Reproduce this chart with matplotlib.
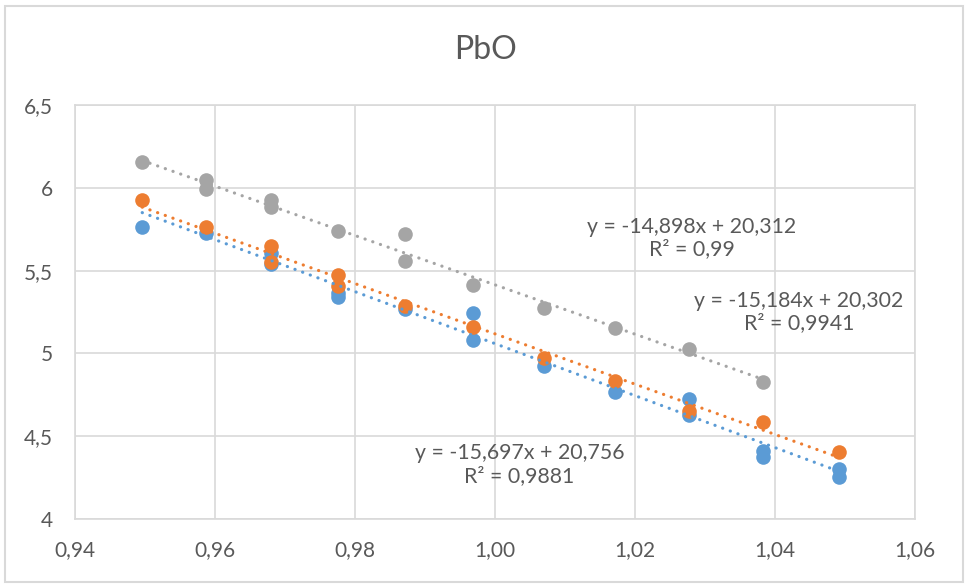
import matplotlib.pyplot as plt
from matplotlib.patches import Rectangle

# measured points (x, y) for the three series
blue_x = [0.9496, 0.9587, 0.9680, 0.9680, 0.9775, 0.9775, 0.9871, 0.9969, 0.9969,
          1.0070, 1.0171, 1.0277, 1.0277, 1.0383, 1.0383, 1.0491, 1.0491]
blue_y = [5.763, 5.725, 5.604, 5.540, 5.365, 5.342, 5.266, 5.242, 5.081,
          4.926, 4.765, 4.725, 4.628, 4.412, 4.376, 4.300, 4.252]

orange_x = [0.9496, 0.9587, 0.9680, 0.9680, 0.9775, 0.9775, 0.9871, 0.9969,
            1.0070, 1.0171, 1.0277, 1.0383, 1.0491]
orange_y = [5.926, 5.761, 5.649, 5.554, 5.473, 5.407, 5.286, 5.161,
            4.974, 4.835, 4.652, 4.584, 4.406]

gray_x = [0.9496, 0.9587, 0.9587, 0.9680, 0.9680, 0.9775, 0.9871, 0.9871,
          0.9969, 1.0070, 1.0171, 1.0277, 1.0383]
gray_y = [6.154, 6.047, 5.993, 5.926, 5.886, 5.741, 5.719, 5.560,
          5.413, 5.276, 5.152, 5.027, 4.827]

# linear trendlines as printed on the chart
slopes = [-15.697, -15.184, -14.898]
intercepts = [20.756, 20.302, 20.312]
eq_labels = ['y = -15,697x + 20,756\nR² = 0,9881',
             'y = -15,184x + 20,302\nR² = 0,9941',
             'y = -14,898x + 20,312\nR² = 0,99']

x_ticks = [0.94, 0.96, 0.98, 1.00, 1.02, 1.04, 1.06]
x_ticklabels = ['0,94', '0,96', '0,98', '1,00', '1,02', '1,04', '1,06']
y_ticks = [4, 4.5, 5, 5.5, 6, 6.5]
y_ticklabels = ['4', '4,5', '5', '5,5', '6', '6,5']

colors = ['#5B9BD5', '#ED7D31', '#A5A5A5']
label_pos = [(1.0035, 4.329), (1.0434, 5.248), (1.0281, 5.697)]

plt.rcParams['font.family'] = ['Lato', 'DejaVu Sans']

fig = plt.figure(figsize=(9.68, 5.85), dpi=100)
ax = fig.add_axes([0.0775, 0.1128, 0.8678, 0.7077])

series = [(blue_x, blue_y), (orange_x, orange_y), (gray_x, gray_y)]
for (xs, ys), c in zip(series, colors):
    ax.plot(xs, ys, 'o', color=c, markersize=10.5, markeredgewidth=0, zorder=3)

for (xs, ys), c, m, b in zip(series, colors, slopes, intercepts):
    x0, x1 = min(xs), max(xs)
    ax.plot([x0, x1], [m * x0 + b, m * x1 + b], color=c, lw=2.3,
            linestyle=(0, (0.05, 2.5)), dash_capstyle='round', zorder=4)

for (tx, ty), txt in zip(label_pos, eq_labels):
    ax.text(tx, ty, txt, ha='center', va='center', fontsize=15.3,
            color='#595959', linespacing=1.15, zorder=5)

ax.set_xlim(0.94, 1.06)
ax.set_ylim(4, 6.5)
ax.set_xticks(x_ticks)
ax.set_xticklabels(x_ticklabels)
ax.set_yticks(y_ticks)
ax.set_yticklabels(y_ticklabels)
ax.tick_params(length=0, labelsize=15, labelcolor='#595959')
ax.tick_params(axis='x', pad=15)
ax.tick_params(axis='y', pad=16)
ax.grid(True, color='#D9D9D9', lw=1.2)
ax.set_axisbelow(True)
for s in ax.spines.values():
    s.set_color('#D9D9D9')
    s.set_linewidth(1.2)

fig.text(0.5016, 0.9145, 'PbO', ha='center', va='center', fontsize=23, color='#595959')
fig.patches.append(Rectangle((0.005, 0.005), 0.99, 0.984, transform=fig.transFigure,
                             fill=False, edgecolor='#D9D9D9', lw=1.5))

fig.savefig('out.png', dpi=100)
